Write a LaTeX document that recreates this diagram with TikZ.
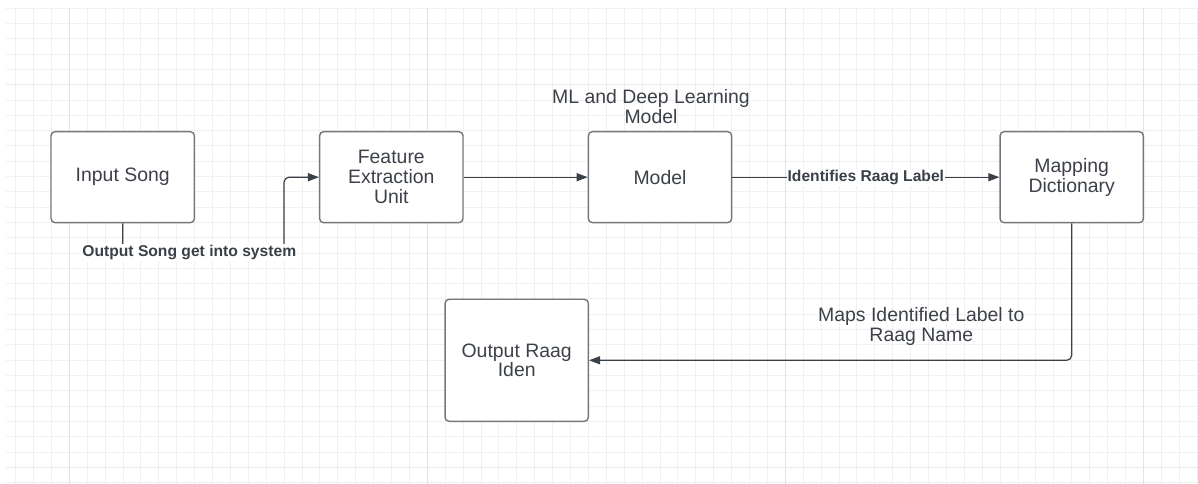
\documentclass[tikz,border=0pt]{standalone}
\usepackage{fontspec}
\setmainfont{Liberation Sans}
\usetikzlibrary{arrows.meta,calc}
\definecolor{gridminor}{HTML}{F0F0F0}
\definecolor{gridmajor}{HTML}{E2E2E2}
\definecolor{gridmajorh}{HTML}{EAEAEA}
\definecolor{boxline}{HTML}{73777D}
\definecolor{txt}{HTML}{3C4149}
\definecolor{conn}{HTML}{3A4048}
\tikzset{
  blockbox/.style={draw=boxline, line width=1.4bp, rounded corners=4bp, fill=white,
    minimum width=143.3bp, minimum height=91bp, align=center, text=txt,
    font=\fontsize{19.5}{20}\selectfont, inner sep=2bp},
  plaintext/.style={align=center, text=txt, font=\fontsize{19.5}{20}\selectfont, inner sep=0bp},
  linklabel/.style={fill=white, text=conn, inner sep=1bp,
    font=\fontsize{15.7}{16}\selectfont\bfseries},
  link/.style={draw=conn, line width=1.2bp, rounded corners=5bp,
    -{Triangle[length=11bp,width=8bp]}}
}
\begin{document}
\begin{tikzpicture}[x=1bp,y=-1bp]
\useasboundingbox (0,0) rectangle (1198,484);
\fill[white] (0,0) rectangle (1198,484);
% grid
\foreach \j in {0,...,31} {
  \draw[gridminor, line width=1bp] (6,8.3+15.3*\j) -- (1198,8.3+15.3*\j);
}
\foreach \k in {0,...,66} {
  \draw[gridminor, line width=1bp] (15.6+17.9*\k,8) -- (15.6+17.9*\k,484);
}
\foreach \m in {0,1,2,3} {
  \draw[gridmajor, line width=1.2bp] (69.3+358*\m,8) -- (69.3+358*\m,484);
}
\draw[gridmajorh, line width=1bp] (6,85) -- (1198,85);
\draw[gridmajorh, line width=1bp] (6,467.3) -- (1198,467.3);

% blocks
\node[blockbox] (in) at (122.7,177.2) {Input Song};
\node[blockbox] (fe) at (391.3,177.2) {Feature\\Extraction\\Unit};
\node[blockbox] (mo) at (660,177.2) {Model};
\node[blockbox] (md) at (1071.7,177.2) {Mapping\\Dictionary};
\node[blockbox, minimum height=122bp] (out) at (516.7,360.3) {Output Raag\\Iden};

% free texts
\node[plaintext] (mltitle) at (651,106.7) {ML and Deep Learning\\Model};
\node[plaintext] (mapstxt) at (921.3,326.7) {Maps Identified Label to\\Raag Name};

% connectors
\coordinate (bend1) at (284,252.5);
\draw[link] (in.south) |- (bend1) |- (fe.west);
\node[linklabel] (l1) at (189.3,252.5) {Output Song get into system};
\draw[link] (fe.east) -- (mo.west);
\draw[link] (mo.east) -- (md.west);
\node[linklabel] (l2) at ($(mo.east)!0.5!(md.west)$) {Identifies Raag Label};
\draw[link] (md.south) |- (out.east);
\end{tikzpicture}
\end{document}
